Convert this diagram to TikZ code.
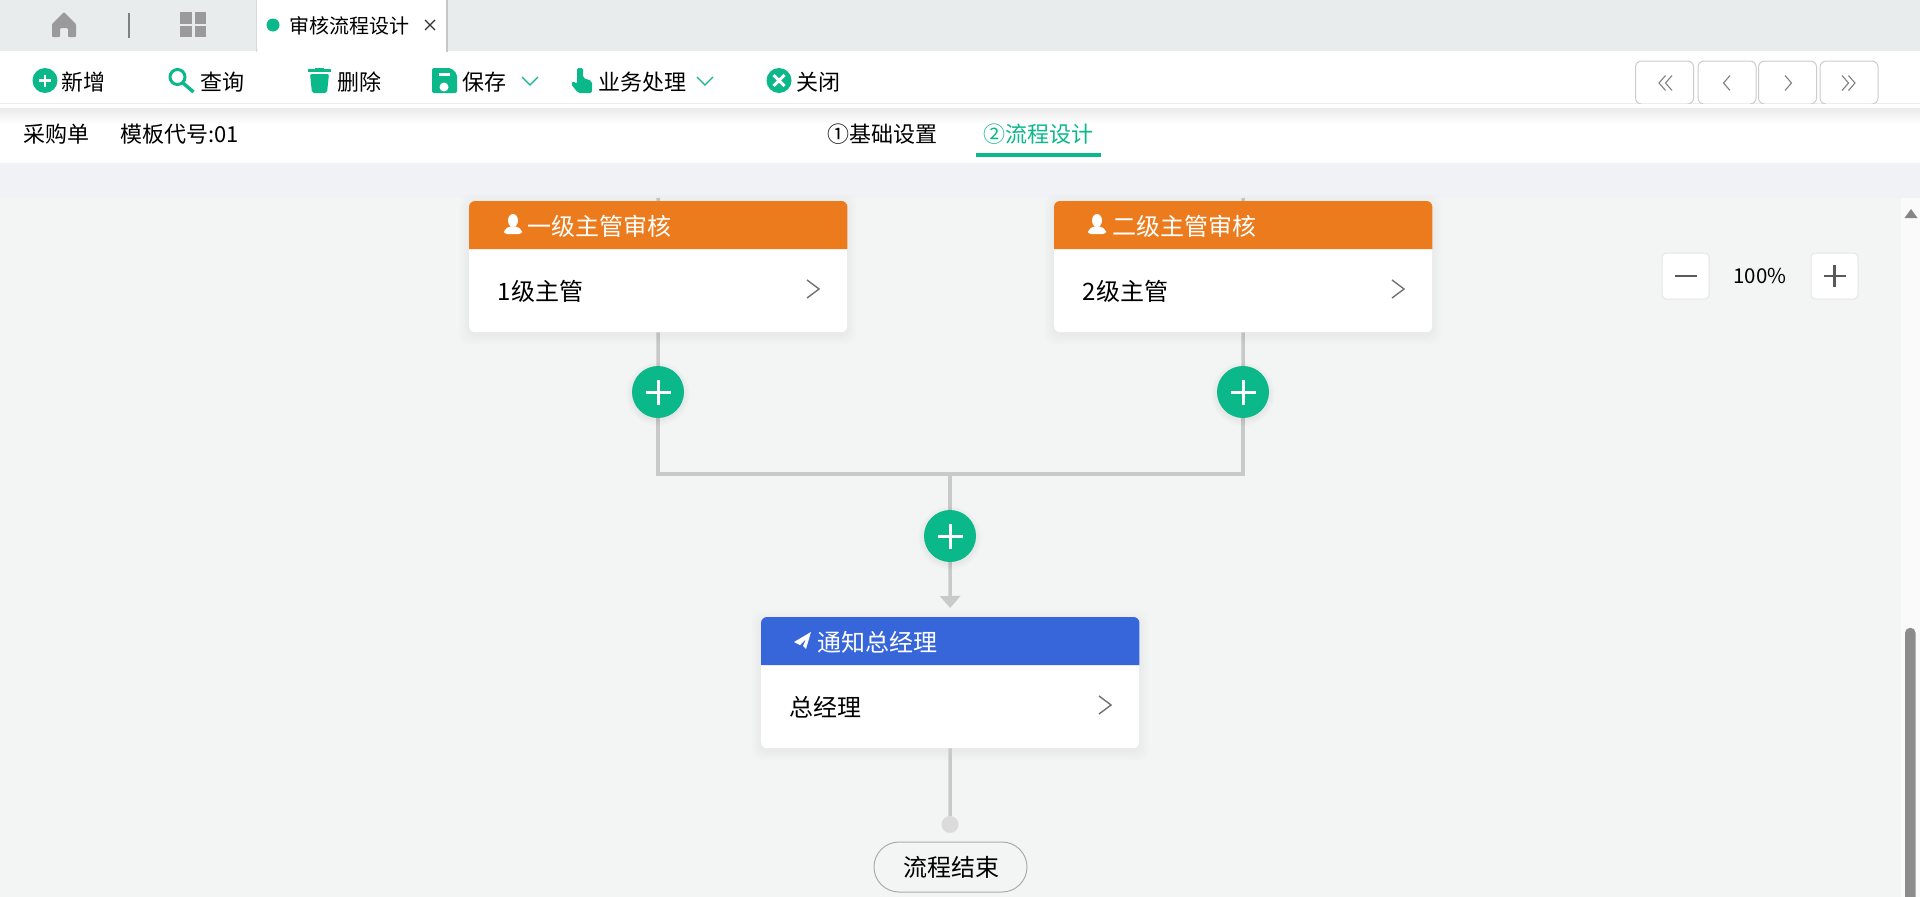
\documentclass[tikz,border=0pt]{standalone}
\usepackage{fontspec}
\setmainfont{Noto Sans CJK SC}
\usetikzlibrary{arrows.meta}
\definecolor{flowgreen}{HTML}{0AB88A}
\definecolor{headorange}{HTML}{EB7B1C}
\definecolor{headblue}{HTML}{3666DA}
\definecolor{topgray}{HTML}{E9ECEC}
\definecolor{bandgray}{HTML}{F0F2F5}
\definecolor{canvasgray}{HTML}{F3F5F5}
\definecolor{linegray}{HTML}{C9C9C9}
\definecolor{icongray}{HTML}{9A9A9A}
\tikzset{
	x=1pt, y=-1pt,
	txt/.style={anchor=base west, inner sep=0pt, text=black, font=\fontsize{22}{26}\selectfont},
	cardtxt/.style={txt, font=\fontsize{24}{28}\selectfont},
	cardbox/.style={anchor=north west, inner sep=0pt, fill=white, rounded corners=6pt, minimum width=378pt, minimum height=131pt},
	flowline/.style={draw=linegray, line width=3.5pt},
	addbtn/.style={circle, fill=flowgreen, inner sep=0pt, minimum size=52pt, path picture={
		\draw[white, line width=3pt] ([xshift=-12.5pt]path picture bounding box.center) -- ([xshift=12.5pt]path picture bounding box.center);
		\draw[white, line width=3pt] ([yshift=-12.5pt]path picture bounding box.center) -- ([yshift=12.5pt]path picture bounding box.center);
	}},
	navbtn/.style={draw=black!20, line width=1pt, fill=white, rounded corners=6pt, inner sep=0pt, minimum width=58pt, minimum height=43pt},
	navmark/.style={draw=black!50, line width=1.1pt},
	zoombtn/.style={draw=black!10, line width=1pt, fill=white, rounded corners=4pt, inner sep=0pt, minimum width=47pt, minimum height=46pt},
	zoommark/.style={draw=black!65, line width=2.4pt},
	downmark/.style={draw=flowgreen, line width=1.2pt},
}
\def\softshadow(#1,#2)(#3,#4){\foreach \i in {1,...,10}{\fill[black, opacity=0.004, rounded corners=10pt] (#1-\i, #2-\i+3) rectangle (#3+\i, #4+\i+3);}}
\def\roundshadow(#1,#2){\foreach \i in {1,...,7}{\fill[black, opacity=0.006] (#1, #2+2) circle (25+\i);}}
\def\flowcard[#1](#2)(#3,#4)#5#6#7{
	\softshadow(#3,#4)(#3+378,#4+131)
	\node[cardbox] (#2) at (#3,#4) {};
	\fill[#1, rounded corners=6pt] ([yshift=-48pt]#2.north west) [sharp corners] -- ([yshift=-48pt]#2.north east) [rounded corners=6pt] -- (#2.north east) -- (#2.north west) [sharp corners] -- cycle;
	\node[cardtxt, text=white] (#2title) at (#3+#5, #4+34) {#6};
	\node[cardtxt] (#2body) at (#3+28.5, #4+99) {#7};
	\draw[draw=black!55, line width=1.4pt] (#3+338, #4+79) -- (#3+350, #4+88) -- (#3+338, #4+97);
}

\begin{document}
\begin{tikzpicture}
	%%%%% START %%%%%
	\useasboundingbox (0, 0) rectangle (1920, 897);

	%%%%% page bands %%%%%
	\fill[topgray] (0, 0) rectangle (1920, 51);
	\node[fill=white, rounded corners=5pt, inner sep=0pt, minimum width=190pt, minimum height=62pt] (tabCurrent) at (352, 22) {};
	\draw[black!15, line width=1pt] (tabCurrent.north west) -- (tabCurrent.south west);
	\draw[black!22, line width=1.5pt] (tabCurrent.north east) -- (tabCurrent.south east);
	\fill[white] (0, 52) rectangle (1920, 164);
	\fill[black!7] (0, 103) rectangle (1920, 104);
	\shade[top color=black!8, bottom color=white] (0, 108) rectangle (1920, 124);
	\fill[bandgray] (0, 163) rectangle (1920, 198);
	\fill[canvasgray] (0, 198) rectangle (1901, 897);
	\fill[black!2] (1901, 198) rectangle (1920, 897);

	%%%%% scrollbar %%%%%
	\fill[black!45] (1905, 897) -- (1905, 633) arc (180:360:5.3) -- (1915.6, 897) -- cycle;
	\fill[black!48] (1904.5, 218) -- (1911, 209) -- (1917.5, 218) -- cycle;

	%%%%% tab strip %%%%%
	\fill[icongray, rounded corners=1pt] (52, 24) -- (64, 12) -- (76, 24) -- (76, 37) -- (68, 37) -- (68, 28) -- (60, 28) -- (60, 37) -- (52, 37) -- cycle;
	\fill[black!50] (128, 13) rectangle (130, 38);
	\fill[icongray] (180, 12) rectangle (191.5, 24);
	\fill[icongray] (194.5, 12) rectangle (206, 24);
	\fill[icongray] (180, 26) rectangle (191.5, 37);
	\fill[icongray] (194.5, 26) rectangle (206, 37);
	\fill[flowgreen] (273, 25) circle (6.5);
	\node[txt, font=\fontsize{20}{24}\selectfont] (tabLabel) at (289, 33) {审核流程设计};
	\draw[black!80, line width=1.2pt] (425, 20) -- (435, 30);
	\draw[black!80, line width=1.2pt] (435, 20) -- (425, 30);

	%%%%% toolbar %%%%%
	\fill[flowgreen] (45, 80.5) circle (12.5);
	\draw[white, line width=2.8pt] (39, 80.5) -- (51, 80.5);
	\draw[white, line width=2.8pt] (45, 74.5) -- (45, 86.5);
	\node[txt] (btnAdd) at (61, 90) {新增};

	\draw[flowgreen, line width=3pt] (177.5, 77) circle (7.5);
	\draw[flowgreen, line width=3.4pt] (183, 83) -- (193.5, 92);
	\node[txt] (btnQuery) at (200, 90) {查询};

	\fill[flowgreen] (315, 67.5) rectangle (324, 70);
	\fill[flowgreen] (308, 69) rectangle (331, 72);
	\fill[flowgreen, rounded corners=2pt] (310, 74) -- (329, 74) -- (327, 93) -- (312, 93) -- cycle;
	\node[txt] (btnDelete) at (337, 90) {删除};

	\fill[flowgreen, rounded corners=2pt] (432, 68) -- (451, 68) -- (457, 74) -- (457, 93) -- (432, 93) -- cycle;
	\fill[white] (439, 73) rectangle (450, 76);
	\fill[white] (444, 87) circle (4.5);
	\node[txt] (btnSave) at (462, 90) {保存};
	\draw[downmark] (522, 77) -- (530, 85) -- (538, 77);

	\fill[flowgreen, rounded corners=2pt] (577, 68) -- (583, 68) -- (583, 78) -- (592, 81) -- (592, 93) -- (578, 93) -- (571, 84) -- (573, 81) -- (577, 84) -- cycle;
	\node[txt] (btnProcess) at (598, 90) {业务处理};
	\draw[downmark] (697, 77) -- (705, 85) -- (713, 77);

	\fill[flowgreen] (779, 80.5) circle (12.5);
	\draw[white, line width=3pt] (773.5, 75) -- (784.5, 86);
	\draw[white, line width=3pt] (784.5, 75) -- (773.5, 86);
	\node[txt] (btnClose) at (796, 90) {关闭};

	\node[navbtn] (navFirst) at (1664.5, 82.5) {};
	\node[navbtn] (navPrev) at (1727, 82.5) {};
	\node[navbtn] (navNext) at (1787.5, 82.5) {};
	\node[navbtn] (navLast) at (1849, 82.5) {};
	\fill[white] (1630, 104) rectangle (1885, 108);
	\draw[navmark] (1665.5, 75.5) -- (1659, 83) -- (1665.5, 90.5);
	\draw[navmark] (1672, 75.5) -- (1665.5, 83) -- (1672, 90.5);
	\draw[navmark] (1730, 75.5) -- (1723.5, 83) -- (1730, 90.5);
	\draw[navmark] (1785, 75.5) -- (1791.5, 83) -- (1785, 90.5);
	\draw[navmark] (1842, 75.5) -- (1848.5, 83) -- (1842, 90.5);
	\draw[navmark] (1848.5, 75.5) -- (1855, 83) -- (1848.5, 90.5);

	%%%%% heading row %%%%%
	\node[txt] (docName) at (23, 142) {采购单};
	\node[txt] (docCode) at (120, 142) {模板代号:01};
	\node[txt] (stepBase) at (827, 142) {①基础设置};
	\node[txt, text=flowgreen] (stepFlow) at (983, 142) {②流程设计};
	\fill[flowgreen] (976, 153) rectangle (1101, 157);

	%%%%% flow lines, cards on top %%%%%
	\coordinate (stubA) at (658, 198);
	\coordinate (stubB) at (1243, 198);
	\coordinate (joinM) at (950, 474);
	\node[cardbox, fill=none] (card3) at (761, 617) {};
	\node[cardbox, fill=none] (card1) at (469, 201) {};
	\node[cardbox, fill=none] (card2) at (1054, 201) {};
	\node[addbtn, fill=none, path picture={}] (addA) at (658, 392) {};
	\node[addbtn, fill=none, path picture={}] (addB) at (1243, 392) {};
	\node[addbtn, fill=none, path picture={}] (addC) at (950, 536) {};
	\draw[flowline] (stubA) -- (card1.north);
	\draw[flowline] (stubB) -- (card2.north);
	\draw[flowline] (card1.south) -- (addA.north);
	\draw[flowline] (card2.south) -- (addB.north);
	\draw[flowline] (addA.south) |- (joinM) -| (addB.south);
	\draw[flowline] (joinM) -- (addC.north);
	\draw[flowline, shorten >=9pt, -{Triangle[width=20pt, length=12pt]}] (addC.south) -- (card3.north);

	%%%%% cards %%%%%
	\flowcard[headorange](card1)(469,201){58}{一级主管审核}{1级主管}
	\flowcard[headorange](card2)(1054,201){58}{二级主管审核}{2级主管}
	\flowcard[headblue](card3)(761,617){56}{通知总经理}{总经理}

	\fill[white] (513, 220.5) ellipse (5 and 6.5);
	\fill[white, rounded corners=3pt] (504, 234) -- (504, 230) -- (510, 226) -- (516, 226) -- (522, 230) -- (522, 234) -- cycle;
	\fill[white] (1097, 220.5) ellipse (5 and 6.5);
	\fill[white, rounded corners=3pt] (1088, 234) -- (1088, 230) -- (1094, 226) -- (1100, 226) -- (1106, 230) -- (1106, 234) -- cycle;
	\fill[white] (811, 632) -- (794, 642) -- (800, 645) -- (806, 639) -- (803, 646) -- (806, 649) -- cycle;

	%%%%% add buttons %%%%%
	\roundshadow(658,392)
	\roundshadow(1243,392)
	\roundshadow(950,536)
	\node[addbtn] (addAtop) at (addA) {};
	\node[addbtn] (addBtop) at (addB) {};
	\node[addbtn] (addCtop) at (addC) {};

	%%%%% flow end %%%%%
	\node[circle, fill=black!14, inner sep=0pt, minimum size=17pt] (endDot) at (950, 824.5) {};
	\draw[flowline] (card3.south) -- (endDot.north);
	\node[draw=black!33, line width=1pt, fill=canvasgray, rounded corners=25pt, inner sep=0pt, minimum width=153pt, minimum height=50pt] (endPill) at (950.5, 867) {};
	\node[cardtxt] (endLabel) at (903, 876) {流程结束};

	%%%%% zoom control %%%%%
	\node[zoombtn] (zoomOut) at (1685.5, 276) {};
	\node[zoombtn] (zoomIn) at (1834.5, 276) {};
	\draw[zoommark] (1674.5, 276) -- (1696.5, 276);
	\draw[zoommark] (1823.5, 276) -- (1845.5, 276);
	\draw[zoommark] (1834.5, 265) -- (1834.5, 287);
	\node[anchor=base, inner sep=0pt, text=black, font=\fontsize{20.5}{24}\selectfont] (zoomValue) at (1760, 283.5) {100\%};
	%%%%% END %%%%%
\end{tikzpicture}
\end{document}
